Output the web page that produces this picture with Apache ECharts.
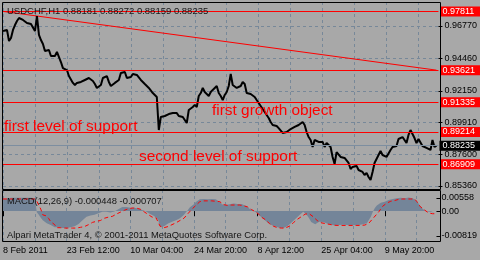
<!DOCTYPE html>
<html><head><meta charset="utf-8">
<script src="https://cdn.jsdelivr.net/npm/echarts@6/dist/echarts.min.js"></script>
<style>html,body{margin:0;padding:0;background:#a8a8a8}#c{width:480px;height:260px}</style>
</head><body><div id="c"></div>
<script>
// ---- data ----
const timeLabels = ['8 Feb 2011','23 Feb 12:00','10 Mar 04:00','24 Mar 20:00','8 Apr 12:00','25 Apr 04:00','9 May 20:00'];
const priceTicks = [0.96770, 0.94460, 0.92150, 0.89910, 0.87600, 0.85360];
const levelLines = [0.97811, 0.93621, 0.91335, 0.89214, 0.86909];
const currentPrice = 0.88235;
const priceMin = 0.85144, priceMax = 0.98482;
const trendLine = [[0, 0.97811], [217, 0.93621]];
const macdTicks = [0.00558, 0, -0.00819];
const macdMin = -0.00819, macdMax = 0.00558;
const titleText = 'USDCHF,H1 0.88181 0.88272 0.88159 0.88235';
const macdText = 'MACD(12,26,9) -0.000448 -0.000707';
const footerText = 'Alpari MetaTrader 4, \u00A9 2001-2011 MetaQuotes Software Corp.';
const notes = ['first level of support', 'first growth object', 'second level of support'];

const closePrices = [
0.9641,0.9649,0.9649,0.9570,0.9591,0.9649,0.9684,0.9713,0.9734,0.9727,
0.9720,0.9713,0.9698,0.9706,0.9691,0.9677,0.9641,0.9748,0.9613,0.9577,
0.9549,0.9499,0.9513,0.9506,0.9463,0.9449,0.9463,0.9492,0.9484,0.9420,
0.9377,0.9377,0.9363,0.9320,0.9306,0.9271,0.9256,0.9271,0.9285,0.9278,
0.9285,0.9292,0.9299,0.9306,0.9292,0.9285,0.9263,0.9235,0.9249,0.9256,
0.9306,0.9320,0.9320,0.9278,0.9249,0.9256,0.9271,0.9271,0.9292,0.9342,
0.9356,0.9349,0.9306,0.9292,0.9313,0.9335,0.9328,0.9328,0.9320,0.9292,
0.9299,0.9263,0.9249,0.9235,0.9221,0.9199,0.9192,0.9171,0.8935,0.9028,
0.9021,0.9035,0.9028,0.9049,0.9056,0.9056,0.9049,0.9056,0.9035,0.9028,
0.9028,0.9021,0.8985,0.9078,0.9092,0.9099,0.9114,0.9099,0.9178,0.9199,
0.9235,0.9206,0.9192,0.9178,0.9206,0.9221,0.9235,0.9249,0.9199,0.9178,
0.9149,0.9185,0.9206,0.9249,0.9335,0.9256,0.9249,0.9235,0.9249,0.9249,
0.9278,0.9263,0.9199,0.9185,0.9192,0.9185,0.9171,0.9149,0.9128,0.9114,
0.9085,0.9064,0.9042,0.9021,0.8992,0.8971,0.8971,0.8964,0.8949,0.8935,
0.8914,0.8914,0.8921,0.8928,0.8942,0.8942,0.8957,0.8957,0.8971,0.8978,
0.8992,0.8971,0.8921,0.8885,0.8864,0.8814,0.8864,0.8857,0.8850,0.8850,
0.8850,0.8814,0.8842,0.8850,0.8814,0.8743,0.8693,0.8778,0.8778,0.8743,
0.8736,0.8736,0.8743,0.8700,0.8657,0.8672,0.8686,0.8679,0.8650,0.8636,
0.8636,0.8614,0.8629,0.8600,0.8579,0.8636,0.8700,0.8707,0.8757,0.8785,
0.8757,0.8771,0.8743,0.8736,0.8793,0.8814,0.8814,0.8821,0.8871,0.8878,
0.8885,0.8864,0.8842,0.8900,0.8935,0.8928,0.8878,0.8842,0.8871,0.8878,
0.8821,0.8807,0.8807,0.8814,0.8793,0.8864,0.8814,0.88235
];

const macdMain = [
0.0033,0.0033,0.0033,0.0033,0.0035,0.0035,0.0035,0.0035,0.0035,0.0035,
0.0035,0.0035,0.0035,0.0035,0.0035,0.0034,0.0034,-0.0003,-0.0010,-0.0018,
-0.0024,-0.0029,-0.0032,-0.0034,-0.0037,-0.0042,-0.0043,-0.0044,-0.0043,-0.0044,
-0.0045,-0.0046,-0.0045,-0.0044,-0.0043,-0.0042,-0.0040,-0.0037,-0.0034,-0.0029,
-0.0024,-0.0019,-0.0015,-0.0013,-0.0012,-0.0011,-0.0010,-0.0008,-0.0006,-0.0004,
-0.0002,-0.0001,-0.0002,-0.0003,-0.0004,-0.0003,-0.0001,0.0002,0.0005,0.0009,
0.0011,0.0012,0.0011,0.0010,0.0009,0.0009,0.0009,0.0008,0.0007,0.0005,
0.0003,0.0001,-0.0001,-0.0004,-0.0008,-0.0011,-0.0013,-0.0015,-0.0022,-0.0042,
-0.0043,-0.0040,-0.0037,-0.0033,-0.0030,-0.0028,-0.0026,-0.0024,-0.0021,-0.0019,
-0.0016,-0.0010,-0.0003,0.0003,0.0010,0.0014,0.0018,0.0024,0.0029,0.0031,
0.0032,0.0032,0.0032,0.0031,0.0032,0.0032,0.0031,0.0031,0.0029,0.0024,
0.0018,0.0016,0.0016,0.0017,0.0018,0.0019,0.0020,0.0020,0.0019,0.0020,
0.0019,0.0018,0.0014,0.0009,0.0006,0.0003,0.0001,-0.0001,-0.0006,-0.0012,
-0.0016,-0.0021,-0.0025,-0.0030,-0.0034,-0.0037,-0.0039,-0.0041,-0.0043,-0.0044,
-0.0045,-0.0045,-0.0044,-0.0040,-0.0036,-0.0031,-0.0026,-0.0021,-0.0017,-0.0011,
-0.0006,-0.0002,-0.0004,-0.0012,-0.0020,-0.0029,-0.0032,-0.0035,-0.0033,-0.0028,
-0.0027,-0.0029,-0.0031,-0.0033,-0.0035,-0.0036,-0.0039,-0.0038,-0.0037,-0.0037,
-0.0037,-0.0036,-0.0036,-0.0037,-0.0038,-0.0038,-0.0037,-0.0037,-0.0037,-0.0037,
-0.0036,-0.0035,-0.0033,-0.0032,-0.0028,-0.0015,-0.0002,0.0008,0.0015,0.0020,
0.0022,0.0024,0.0025,0.0027,0.0029,0.0031,0.0032,0.0033,0.0034,0.0035,
0.0035,0.0035,0.0034,0.0035,0.0036,0.0036,0.0034,0.0032,0.0028,0.0024,
0.0012,0.0006,0.0002,-0.0001,-0.0003,-0.0002,-0.0004,-0.00045
];

const macdSignal = [
0.0032,0.0032,0.0032,0.0032,0.0032,0.0032,0.0032,0.0032,0.0032,0.0032,
0.0032,0.0032,0.0032,0.0032,0.0032,0.0032,0.0032,0.0026,0.0016,0.0005,
-0.0010,-0.0011,-0.0013,-0.0020,-0.0028,-0.0033,-0.0036,-0.0044,-0.0044,-0.0044,
-0.0045,-0.0045,-0.0045,-0.0045,-0.0045,-0.0045,-0.0045,-0.0045,-0.0045,-0.0043,
-0.0042,-0.0041,-0.0040,-0.0036,-0.0033,-0.0030,-0.0029,-0.0027,-0.0027,-0.0025,
-0.0022,-0.0019,-0.0017,-0.0016,-0.0015,-0.0014,-0.0011,-0.0008,-0.0005,-0.0003,
0.0000,0.0002,0.0004,0.0006,0.0007,0.0008,0.0008,0.0008,0.0007,0.0005,
0.0002,-0.0002,-0.0005,-0.0009,-0.0013,-0.0016,-0.0017,-0.0018,-0.0020,-0.0040,
-0.0044,-0.0044,-0.0043,-0.0041,-0.0039,-0.0036,-0.0034,-0.0031,-0.0028,-0.0025,
-0.0022,-0.0019,-0.0015,-0.0007,-0.0003,0.0005,0.0010,0.0015,0.0020,0.0025,
0.0027,0.0027,0.0027,0.0027,0.0027,0.0027,0.0026,0.0026,0.0026,0.0025,
0.0022,0.0017,0.0015,0.0015,0.0016,0.0016,0.0016,0.0016,0.0016,0.0016,
0.0016,0.0014,0.0013,0.0011,0.0008,0.0004,0.0001,-0.0002,-0.0006,-0.0010,
-0.0016,-0.0018,-0.0023,-0.0028,-0.0033,-0.0037,-0.0040,-0.0042,-0.0044,-0.0045,
-0.0045,-0.0045,-0.0045,-0.0043,-0.0040,-0.0035,-0.0031,-0.0026,-0.0022,-0.0018,
-0.0015,-0.0012,-0.0008,-0.0007,-0.0007,-0.0010,-0.0015,-0.0018,-0.0025,-0.0029,
-0.0031,-0.0032,-0.0033,-0.0034,-0.0035,-0.0036,-0.0037,-0.0038,-0.0038,-0.0038,
-0.0038,-0.0038,-0.0038,-0.0038,-0.0038,-0.0038,-0.0038,-0.0038,-0.0038,-0.0038,
-0.0038,-0.0038,-0.0037,-0.0035,-0.0032,-0.0027,-0.0020,-0.0015,-0.0008,-0.0002,
0.0006,0.0013,0.0018,0.0021,0.0024,0.0026,0.0027,0.0028,0.0030,0.0031,
0.0032,0.0032,0.0032,0.0032,0.0032,0.0032,0.0032,0.0032,0.0026,0.0018,
0.0011,0.0007,0.0003,-0.0002,-0.0005,-0.0006,-0.0007,-0.000707
];

// one category slot per data point plus one empty slot at the right edge
const categories = closePrices.map((_, i) => String(i)).concat(['']);

// ---- chart ----
const FONT = '"Liberation Sans", Arial, sans-serif';
const GRID_C = '#778899';
const chart = echarts.init(document.getElementById('c'), null, {renderer: 'canvas'});

const labelBase = {fontFamily: FONT, fontSize: 9, color: '#000'};
const dashed = {color: GRID_C, type: [3, 3], width: 1};

const macdRange = macdMax - macdMin;
const macdTickMarks = [macdMax - macdRange * 8 / 52, 0, macdMin + macdRange * 6 / 52];

function txt(text, x, y, size, color) {
  return {type: 'text', x: x, y: y, z: 50, silent: true,
    style: {text: text, fill: color, font: size + 'px ' + FONT, verticalAlign: 'middle', align: 'left'}};
}

const option = {
  backgroundColor: '#a8a8a8',
  animation: false,
  grid: [
    {left: 3, top: 2, width: 437, height: 187},
    {left: 3, top: 190, width: 437, height: 52}
  ],
  xAxis: [
    {type: 'category', gridIndex: 0, data: categories, boundaryGap: false,
      axisLine: {show: false}, axisTick: {show: false}, axisLabel: {show: false},
      splitLine: {show: true, interval: 15, lineStyle: dashed}},
    {type: 'category', gridIndex: 1, data: categories, boundaryGap: false,
      axisLine: {show: false},
      axisTick: {show: true, interval: 31, length: 5, lineStyle: {color: '#000'}},
      axisLabel: Object.assign({show: true, interval: 31, align: 'left', margin: 4,
        formatter: (v, idx) => (idx % 32 === 0 && timeLabels[idx / 32]) ? timeLabels[idx / 32] : ''}, labelBase),
      splitLine: {show: true, interval: 15, lineStyle: dashed}}
  ],
  yAxis: [
    {type: 'value', gridIndex: 0, position: 'right', min: priceMin, max: priceMax,
      axisLine: {show: false},
      axisTick: {show: true, customValues: priceTicks, length: 4, lineStyle: {color: '#000'}},
      axisLabel: Object.assign({customValues: priceTicks, margin: 6, formatter: v => v.toFixed(5)}, labelBase),
      splitLine: {show: true, lineStyle: dashed}},
    {type: 'value', gridIndex: 1, position: 'right', min: macdMin, max: macdMax,
      axisLine: {show: false},
      axisTick: {show: true, customValues: macdTickMarks, length: 4, lineStyle: {color: '#000'}},
      axisLabel: Object.assign({customValues: macdTicks, margin: 5,
        formatter: v => v === 0 ? '{m|0.00}' : (v > 0 ? '{t|' + v.toFixed(5) + '}' : '{b|' + v.toFixed(5) + '}'),
        rich: {t: {padding: [16, 0, 0, 0]}, b: {padding: [0, 0, 12, 0]}, m: {}}}, labelBase),
      splitLine: {show: false}}
  ],
  series: [
    {type: 'line', name: 'MACD', xAxisIndex: 1, yAxisIndex: 1, data: macdMain,
      showSymbol: false, lineStyle: {width: 0}, areaStyle: {color: '#748599', opacity: 1}, z: 1, silent: true},
    {type: 'line', name: 'Signal', xAxisIndex: 1, yAxisIndex: 1, data: macdSignal,
      showSymbol: false, lineStyle: {color: '#ff0000', width: 1, type: [4, 3]}, z: 2, silent: true},
    {type: 'line', name: 'Trend', xAxisIndex: 0, yAxisIndex: 0, data: trendLine,
      showSymbol: false, lineStyle: {color: '#ff0000', width: 1}, z: 3, silent: true,
      markLine: {silent: true, symbol: ['none', 'none'], animation: false, precision: 5,
        lineStyle: {color: '#7d8ea0', width: 1, type: 'solid', opacity: 1},
        emphasis: {disabled: true},
        label: {show: true, position: 'end', distance: 1, formatter: currentPrice.toFixed(5),
          backgroundColor: '#000000', color: '#ffffff', padding: [1, 6, 0, 3],
          fontFamily: FONT, fontSize: 9},
        data: [{yAxis: currentPrice}]}},
    {type: 'line', name: 'USDCHF', xAxisIndex: 0, yAxisIndex: 0, data: closePrices,
      showSymbol: false, lineStyle: {color: '#000000', width: 2}, z: 4, silent: true,
      markLine: {silent: true, symbol: ['none', 'none'], animation: false, precision: 5,
        lineStyle: {color: '#ff0000', width: 1, type: 'solid', opacity: 1},
        emphasis: {disabled: true},
        label: {show: true, position: 'end', distance: 2, formatter: p => Number(p.value).toFixed(5),
          backgroundColor: '#ff0000', color: '#ffffff', padding: [1, 6, 0, 2],
          fontFamily: FONT, fontSize: 9},
        data: levelLines.map(v => ({yAxis: v}))}}
  ],
  graphic: [
    {type: 'rect', z: 60, silent: true, shape: {x: 2.5, y: 2.5, width: 438, height: 187},
      style: {fill: 'none', stroke: '#000', lineWidth: 1}},
    {type: 'rect', z: 60, silent: true, shape: {x: 2.5, y: 190.5, width: 438, height: 51},
      style: {fill: 'none', stroke: '#000', lineWidth: 1}},
    txt(titleText, 7, 11, 9.5, '#141414'),
    txt(notes[0], 4, 126.3, 15.4, '#ff0000'),
    txt(notes[1], 212, 111, 15.4, '#ff0000'),
    txt(notes[2], 139, 157, 15.4, '#ff0000'),
    txt(macdText, 7, 201, 9.4, '#141414'),
    txt(footerText, 7, 235, 9.4, '#141414')
  ]
};
chart.setOption(option);
</script>
</body></html>
